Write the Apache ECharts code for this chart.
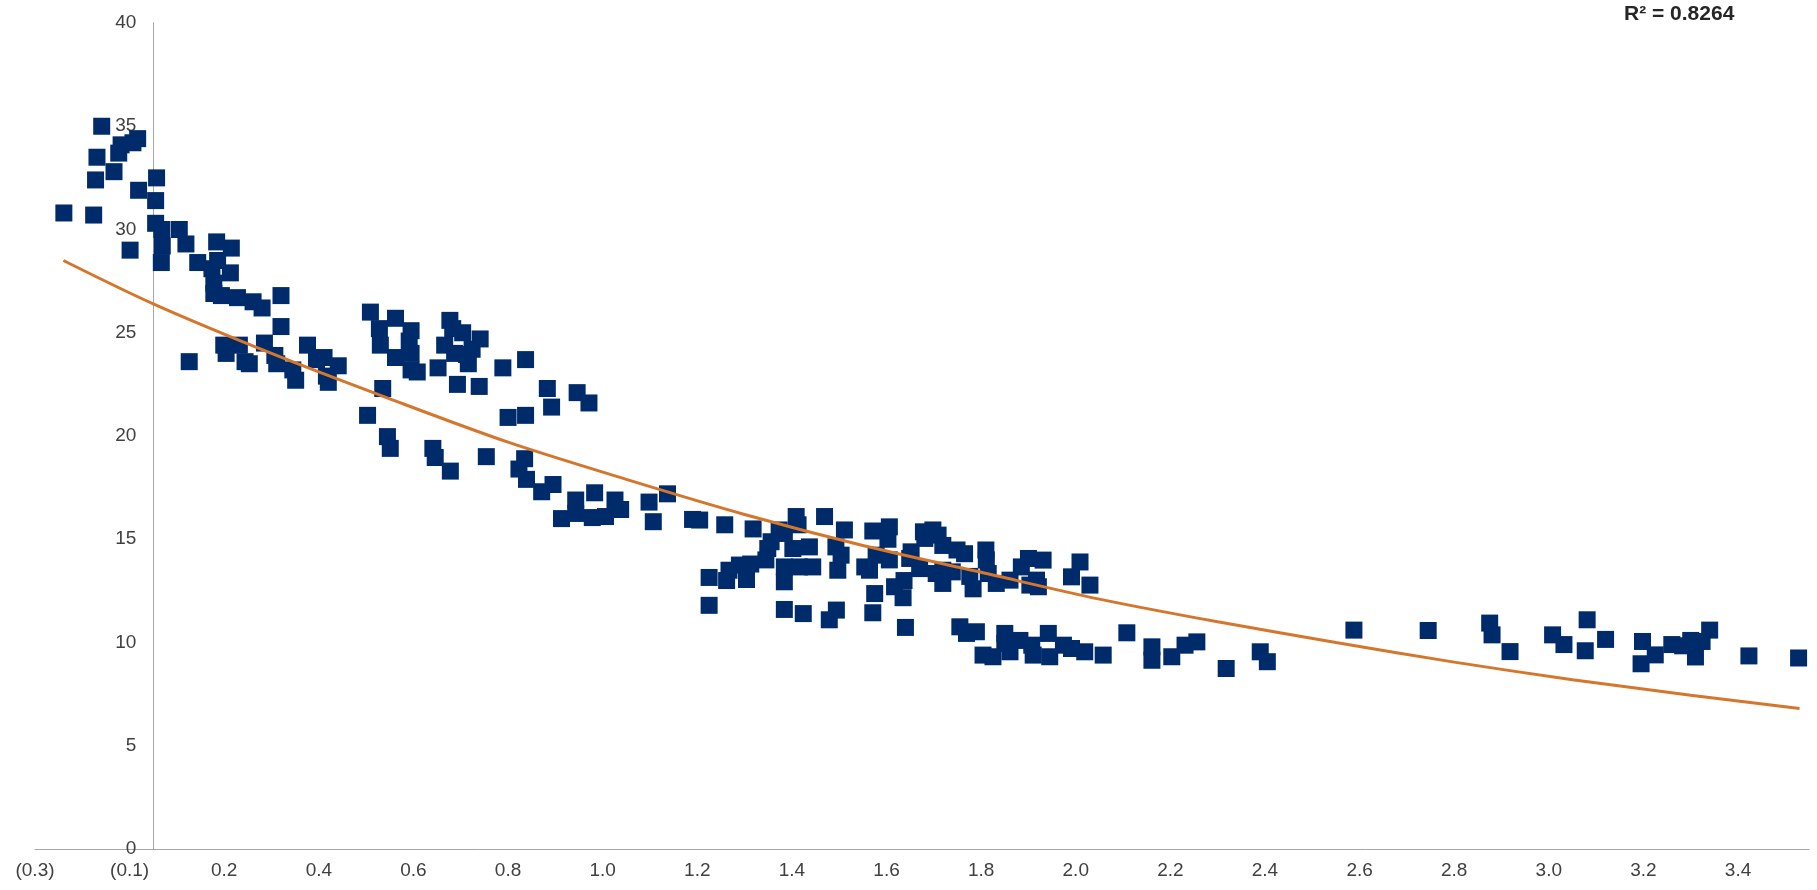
<!DOCTYPE html>
<html>
<head>
<meta charset="utf-8">
<script src="https://cdn.jsdelivr.net/npm/echarts@6/dist/echarts.min.js"></script>
<style>
  html, body { margin: 0; padding: 0; background: #ffffff; }
  #chart { width: 1817px; height: 890px; }
</style>
</head>
<body>
<div id="chart"></div>
<script>
// ---- data ----
const xValues = [
  -0.189, -0.126, -0.122, -0.119, -0.109, -0.083, -0.073, -0.068, -0.043, -0.033, -0.031, -0.049,
  0.007, 0.005, 0.005, 0.018, 0.019, 0.017, 0.055, 0.069, 0.076, 0.094, 0.124, 0.134, 0.165, 0.136,
  0.163, 0.128, 0.128, 0.144, 0.178, 0.211, 0.230, 0.270, 0.270, 0.149, 0.154, 0.182, 0.194, 0.203,
  0.235, 0.257, 0.261, 0.295, 0.301, 0.326, 0.345, 0.361, 0.366, 0.370, 0.391, 0.459, 0.478, 0.480,
  0.512, 0.545, 0.541, 0.545, 0.512, 0.545, 0.558, 0.485, 0.453, 0.616, 0.627, 0.633, 0.654, 0.637,
  0.662, 0.674, 0.691, 0.602, 0.666, 0.643, 0.689, 0.739, 0.787, 0.750, 0.787, 0.833, 0.842, 0.896,
  0.921,
  0.495, 0.501, 0.591, 0.596, 0.628, 0.704, 0.785, 0.773, 0.789, 0.821, 0.845, 0.863, 0.893, 0.893,
  0.933, 0.928, 0.956, 0.976, 0.988, 1.048, 1.057, 1.087, 1.140, 1.155, 1.208, 1.268,
  1.359, 1.363, 1.419, 1.461, 1.521, 1.556, 1.553, 1.631, 1.659, 1.669, 1.699, 1.715, 1.760, 1.761,
  1.782, 1.733, 1.669, 1.726, 1.587, 1.585, 1.567, 1.525, 1.521, 1.590, 1.444, 1.429, 1.374, 1.334,
  1.175, 1.175, 1.212, 1.254, 1.263, 1.217, 1.239, 1.299, 1.295, 1.334, 1.334, 1.334, 1.352, 1.387,
  1.366, 1.394, 1.443, 1.454, 1.447, 1.504, 1.514, 1.528, 1.556, 1.599, 1.620, 1.602, 1.628, 1.655,
  1.669, 1.689, 1.765, 1.811, 1.835, 1.705, 1.719, 1.740, 1.754, 1.775, 1.800, 1.800, 1.811, 1.832,
  1.323, 1.306, 1.648,
  1.850, 1.881, 1.867, 1.853, 1.871, 1.959, 1.941, 1.980, 1.857, 1.860, 1.892, 1.895, 1.924, 1.941,
  1.969, 2.008, 2.058, 2.111, 2.111, 2.153, 2.181, 2.206, 2.268, 2.340, 2.355,
  2.538, 2.695, 2.825, 2.830, 2.868, 2.958, 2.982, 3.031, 3.027, 3.070, 3.148, 3.145, 3.175, 3.210,
  3.233, 3.250, 3.260, 3.274, 3.290, 3.373, 3.478
];
const yValues = [
  30.8, 30.7, 32.4, 33.5, 35.0, 32.8, 33.7, 34.1, 34.2, 34.4, 31.9, 29.0,
  32.5, 31.4, 30.3, 30.0, 29.2, 28.4, 30.0, 29.3, 23.6, 28.4, 28.1, 29.4, 29.1, 28.5,
  27.9, 27.4, 26.9, 26.8, 26.7, 26.5, 26.2, 26.8, 25.3, 24.4, 24.0, 24.4, 23.6, 23.5,
  24.5, 23.9, 23.5, 23.2, 22.7, 24.4, 23.7, 23.8, 22.9, 22.6, 23.4, 26.0, 25.2, 24.4,
  25.7, 25.1, 24.6, 24.0, 23.8, 23.2, 23.1, 22.3, 21.0, 24.4, 25.6, 25.2, 25.0, 24.0,
  23.95, 24.2, 24.7, 23.3, 23.5, 22.5, 22.4, 23.3, 23.7, 20.9, 21.0, 22.3, 21.4, 22.1,
  21.6,
  19.97, 19.4, 19.4, 18.96, 18.3, 19.0, 18.9, 18.4, 17.9, 17.3, 17.65, 16.0, 16.9, 16.25,
  17.25, 16.05, 16.1, 16.9, 16.44, 16.8, 15.85, 17.2, 15.96, 15.93, 15.7, 15.5,
  16.1, 15.7, 16.1, 15.45, 15.4, 15.6, 15.0, 15.04, 15.2, 14.7, 14.48, 14.3, 14.48, 14.0,
  12.86, 12.6, 12.86, 13.2, 13.0, 12.17, 12.7, 12.37, 11.44, 10.73, 11.57, 11.1, 11.4, 11.6,
  13.15, 11.8, 13.0, 13.05, 13.8, 13.5, 13.75, 14.55, 14.0, 15.28, 12.94, 13.66, 14.55, 14.63,
  13.66, 13.66, 14.63, 14.23, 13.5, 13.66, 13.5, 14.23, 14.0, 14.07, 13.58, 14.39, 15.36, 13.34,
  13.5, 13.42, 13.34, 13.02, 13.66, 10.76, 10.44, 10.52, 9.39, 9.31, 10.44, 9.95, 9.55, 10.1,
  15.45, 14.88, 15.45,
  14.07, 13.99, 13.02, 12.78, 12.7, 13.9, 13.18, 12.78, 9.87, 9.39, 10.44, 9.31, 9.87, 9.71,
  9.55, 9.39, 10.47, 9.79, 9.14, 9.31, 9.87, 10.03, 8.74, 9.55, 9.07,
  10.6, 10.58, 10.94, 10.37, 9.56, 10.37, 9.9, 11.1, 9.6, 10.15, 10.05, 8.97, 9.4, 9.9,
  9.84, 10.1, 9.3, 10.05, 10.6, 9.35, 9.25
];
// exponential trend line
const trendX = [-0.19, 0, 0.25, 0.5, 0.75, 1.0, 1.25, 1.5, 1.75, 2.0, 2.25, 2.5, 2.75, 3.0, 3.25, 3.48];
const trendY = [28.5, 26.4, 24.0, 21.8, 19.7, 17.9, 16.2, 14.7, 13.4, 12.1, 11.0, 10.0, 9.05, 8.2, 7.45, 6.8];
// x-axis tick positions and their printed labels
const xTickValues = [-0.25, -0.05, 0.15, 0.35, 0.55, 0.75, 0.95, 1.15, 1.35, 1.55, 1.75, 1.95, 2.15, 2.35, 2.55, 2.75, 2.95, 3.15, 3.35];
const xTickLabels = ['(0.3)', '(0.1)', '0.2', '0.4', '0.6', '0.8', '1.0', '1.2', '1.4', '1.6', '1.8', '2.0', '2.2', '2.4', '2.6', '2.8', '3.0', '3.2', '3.4'];
const rSquaredText = 'R\u00B2 = 0.8264';

// ---- build ----
const scatterData = xValues.map((x, i) => [x, yValues[i]]);
const trendData = trendX.map((x, i) => [x, trendY[i]]);

function xLabel(v) {
  let best = 0, bestD = Infinity;
  xTickValues.forEach((t, i) => { const d = Math.abs(t - v); if (d < bestD) { bestD = d; best = i; } });
  return bestD < 1e-6 ? xTickLabels[best] : '';
}

const GRID_LEFT = 35, GRID_RIGHT = 8, X_MIN = -0.25, X_MAX = 3.5;
const plotWidth = 1817 - GRID_LEFT - GRID_RIGHT;
// shift the y axis (line and labels) so it sits at x = 0 like the reference
const yAxisShift = -plotWidth * (0 - X_MIN) / (X_MAX - X_MIN);

const FONT = '"Liberation Sans", Arial, sans-serif';
const chart = echarts.init(document.getElementById('chart'), null, { renderer: 'canvas' });
chart.setOption({
  animation: false,
  backgroundColor: '#ffffff',
  grid: { left: GRID_LEFT, right: GRID_RIGHT, top: 23, bottom: 41, containLabel: false, outerBoundsMode: 'none' },
  xAxis: {
    type: 'value',
    min: X_MIN,
    max: X_MAX,
    axisLine: { show: true, onZero: true, lineStyle: { color: '#A6A6A6', width: 1 } },
    axisTick: { show: false },
    splitLine: { show: false },
    axisLabel: {
      customValues: xTickValues,
      formatter: xLabel,
      color: '#404040',
      fontSize: 19,
      fontFamily: FONT,
      margin: 12,
      showMinLabel: true,
      showMaxLabel: true,
      hideOverlap: false
    }
  },
  yAxis: {
    type: 'value',
    min: 0,
    max: 40,
    interval: 5,
    offset: yAxisShift,
    axisLine: { show: true, onZero: false, lineStyle: { color: '#A6A6A6', width: 1 } },
    axisTick: { show: false },
    splitLine: { show: false },
    axisLabel: { color: '#404040', fontSize: 19, fontFamily: FONT, margin: 17 }
  },
  graphic: [{
    type: 'text',
    left: 1624,
    top: 4,
    style: { text: rSquaredText, font: 'bold 21px ' + FONT, fill: '#262626' }
  }],
  series: [
    {
      type: 'scatter',
      data: scatterData,
      symbol: 'rect',
      symbolSize: 17,
      itemStyle: { color: '#002B6B', opacity: 1 },
      z: 2
    },
    {
      type: 'line',
      data: trendData,
      smooth: 0.3,
      showSymbol: false,
      symbol: 'none',
      lineStyle: { color: '#D4762C', width: 3 },
      z: 3
    }
  ]
});
</script>
</body>
</html>
